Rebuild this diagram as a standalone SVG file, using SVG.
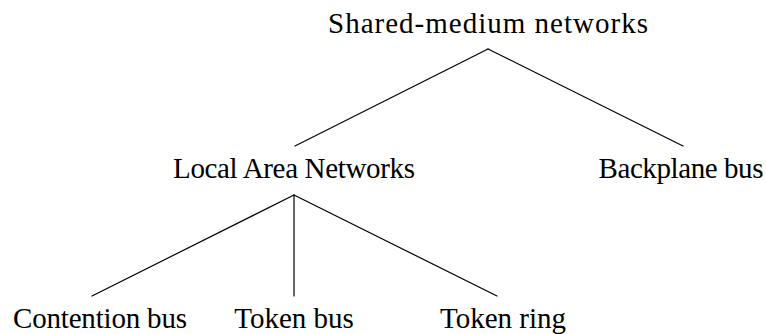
<svg xmlns="http://www.w3.org/2000/svg" width="766" height="334" viewBox="0 0 766 334">
  <style>
    .lbl { font-family: "Liberation Serif", "Times New Roman", serif; font-size: 29px; fill: #000; text-anchor: middle; }
    .edge { stroke: #000; stroke-width: 1.2; fill: none; stroke-linecap: round; }
  </style>
  <rect width="766" height="334" fill="#fff"/>
  <g id="connectors">
    <line class="edge" x1="488" y1="49" x2="295" y2="146"/>
    <line class="edge" x1="488" y1="49" x2="683" y2="146"/>
    <line class="edge" x1="294" y1="195" x2="92" y2="296"/>
    <line class="edge" x1="294" y1="195" x2="294" y2="296"/>
    <line class="edge" x1="294" y1="195" x2="497" y2="296"/>
  </g>
  <g id="root"><text class="lbl" x="488" y="33" textLength="320">Shared-medium networks</text></g>
  <g id="lan"><text class="lbl" x="294" y="178" textLength="242">Local Area Networks</text></g>
  <g id="backplane"><text class="lbl" x="681" y="178" textLength="165">Backplane bus</text></g>
  <g id="contention"><text class="lbl" x="100" y="328" textLength="174">Contention bus</text></g>
  <g id="tokenbus"><text class="lbl" x="294" y="328">Token bus</text></g>
  <g id="tokenring"><text class="lbl" x="503" y="328">Token ring</text></g>
</svg>
